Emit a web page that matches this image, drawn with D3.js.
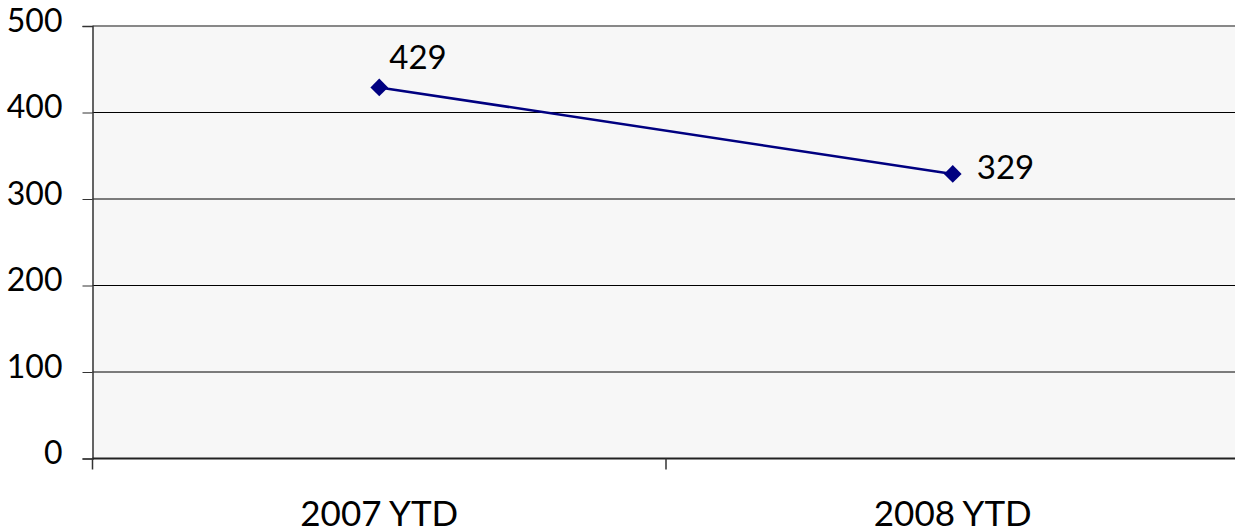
<!DOCTYPE html>
<html>
<head>
<meta charset="utf-8">
<script src="https://cdn.jsdelivr.net/npm/d3@7"></script>
<style>
  body { margin: 0; background: #fff; }
  svg text { font-family: Lato, "DejaVu Sans", sans-serif; fill: #000; }
</style>
</head>
<body>
<div id="chart"></div>
<script>
// 数据
var categories = ['2007 YTD', '2008 YTD'];
var values = [429, 329];
var yTicks = [0, 100, 200, 300, 400, 500];

var width = 1235, height = 531;
var plot = { left: 92.5, top: 26, bottom: 458.5, right: 1239.5 };

var svg = d3.select('#chart').append('svg')
    .attr('width', width)
    .attr('height', height);

var x = d3.scaleBand().domain(categories).range([plot.left, plot.right]);
var y = d3.scaleLinear().domain([0, 500]).range([plot.bottom, plot.top]);

// 背景
svg.append('rect')
    .attr('x', plot.left).attr('y', plot.top)
    .attr('width', plot.right - plot.left).attr('height', plot.bottom - plot.top)
    .attr('fill', '#f7f7f7');

// 网格线
svg.append('g').selectAll('line')
    .data(yTicks.filter(function(d) { return d > 0 && d < 500; }))
    .enter().append('line')
    .attr('x1', plot.left).attr('x2', plot.right)
    .attr('y1', function(d) { return y(d); }).attr('y2', function(d) { return y(d); })
    .attr('stroke', '#000').attr('stroke-width', 1);

// 顶部边框
svg.append('line')
    .attr('x1', plot.left).attr('x2', plot.right)
    .attr('y1', plot.top).attr('y2', plot.top)
    .attr('stroke', '#888').attr('stroke-width', 2);

// y轴
var yAxis = svg.append('g')
    .attr('transform', 'translate(' + plot.left + ',0)')
    .call(d3.axisLeft(y).tickValues(yTicks).tickSize(10).tickPadding(20));
yAxis.select('.domain').attr('stroke', '#333').attr('stroke-width', 1.5);
yAxis.selectAll('.tick line').attr('stroke', '#333');
yAxis.selectAll('text').style('font-size', '32px').attr('dy', 5);

// x轴
var xAxis = svg.append('g')
    .attr('transform', 'translate(0,' + plot.bottom + ')');
xAxis.append('line')
    .attr('x1', plot.left).attr('x2', plot.right)
    .attr('stroke', '#222').attr('stroke-width', 2);
var bounds = [plot.left, plot.left + x.bandwidth(), plot.right];
xAxis.selectAll('.xt').data(bounds).enter().append('line')
    .attr('x1', function(d) { return d; }).attr('x2', function(d) { return d; })
    .attr('y1', 0).attr('y2', 11)
    .attr('stroke', '#333').attr('stroke-width', 1.5);
xAxis.selectAll('text').data(categories).enter().append('text')
    .attr('x', function(d) { return x(d) + x.bandwidth() / 2; })
    .attr('y', 67)
    .attr('text-anchor', 'middle')
    .style('font-size', '35px')
    .text(function(d) { return d; });

// 折线
var cx = function(d, i) { return x(categories[i]) + x.bandwidth() / 2; };
var line = d3.line()
    .x(cx)
    .y(function(d) { return y(d); });
svg.append('path')
    .datum(values)
    .attr('d', line)
    .attr('fill', 'none')
    .attr('stroke', '#000080')
    .attr('stroke-width', 2.5);

// 菱形标记
svg.selectAll('.marker').data(values).enter().append('path')
    .attr('d', d3.symbol().type(d3.symbolDiamond2).size(200))
    .attr('transform', function(d, i) { return 'translate(' + cx(d, i) + ',' + y(d) + ')'; })
    .attr('fill', '#000080');

// 数据标签
var labelOffset = [[10, -18], [24, 5]];
svg.selectAll('.lbl').data(values).enter().append('text')
    .attr('x', function(d, i) { return cx(d, i) + labelOffset[i][0]; })
    .attr('y', function(d, i) { return y(d) + labelOffset[i][1]; })
    .style('font-size', '33px')
    .text(function(d) { return d; });
</script>
</body>
</html>
